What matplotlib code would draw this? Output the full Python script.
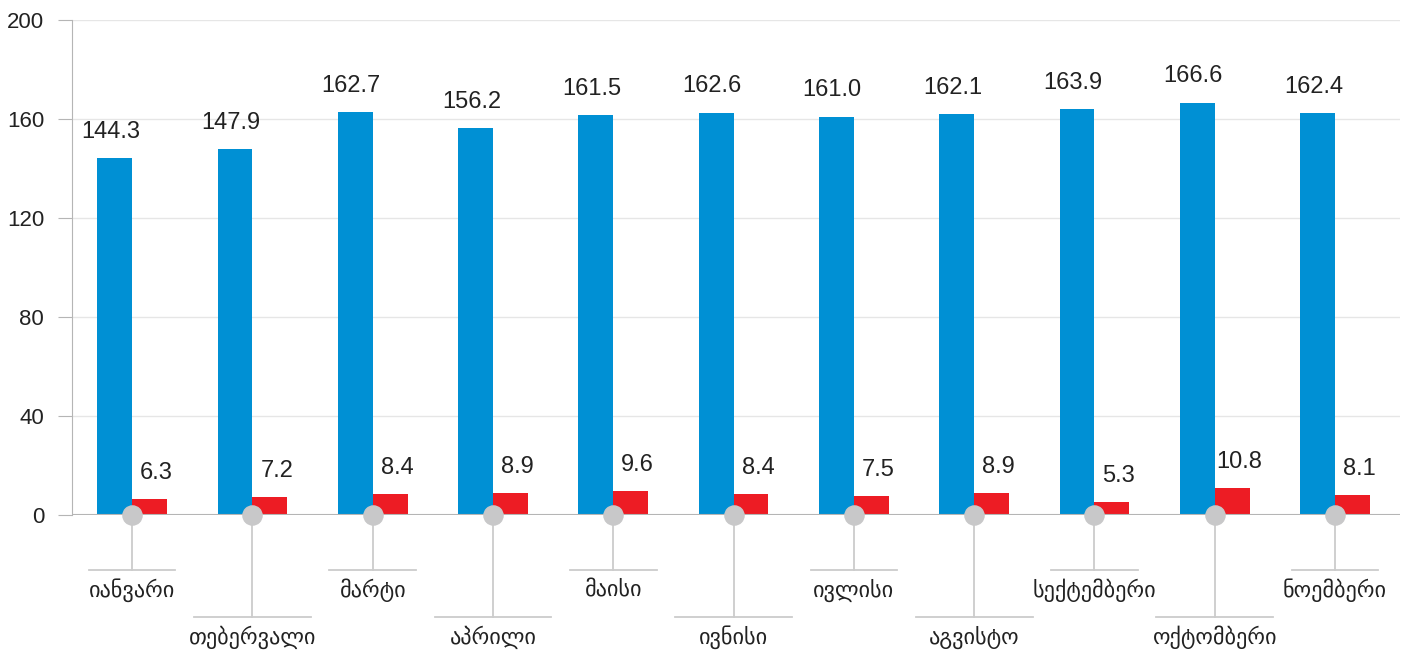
import numpy as np
import matplotlib.pyplot as plt
from matplotlib.transforms import blended_transform_factory
from matplotlib.lines import Line2D

# ── Data ───────────────────────────────────────
months = ["იანვარი", "თებერვალი", "მარტი", "აპრილი", "მაისი", "ივნისი",
          "ივლისი", "აგვისტო", "სექტემბერი", "ოქტომბერი", "ნოემბერი"]
blue_vals = [144.3, 147.9, 162.7, 156.2, 161.5, 162.6, 161.0, 162.1, 163.9, 166.6, 162.4]
red_vals = [6.3, 7.2, 8.4, 8.9, 9.6, 8.4, 7.5, 8.9, 5.3, 10.8, 8.1]

BLUE = "#0090d4"
RED = "#ed1c24"
GREY = "#c8c8c9"

plt.rcParams["font.family"] = ["Liberation Sans", "DejaVu Sans"]

W, H = 1408, 650
fig = plt.figure(figsize=(W / 100, H / 100), dpi=100)
ax = fig.add_axes([72 / W, 135 / H, (1400 - 72) / W, (515 - 20) / H])

x = np.arange(len(months))
bw = 0.29
ax.bar(x - bw / 2, blue_vals, width=bw, color=BLUE, zorder=2)
ax.bar(x + bw / 2, red_vals, width=bw, color=RED, zorder=2)

for i in range(len(months)):
    ax.annotate(f"{blue_vals[i]:.1f}", (x[i] - bw / 2, blue_vals[i]),
                xytext=(-3, 11), textcoords="offset points",
                ha="center", va="bottom", fontsize=17, color="#222222")
    ax.annotate(f"{red_vals[i]:.1f}", (x[i] + bw / 2, red_vals[i]),
                xytext=(5, 11), textcoords="offset points",
                ha="center", va="bottom", fontsize=17, color="#222222")

ax.set_xlim(-0.5, 10.54)
ax.set_ylim(0, 200)
ax.set_yticks([0, 40, 80, 120, 160, 200])
ax.set_xticks([])
ax.grid(axis="y", color="#e6e6e6", linewidth=1, zorder=0)
for s in ["top", "right", "bottom"]:
    ax.spines[s].set_visible(False)
ax.spines["left"].set_color("#b5b5b5")
ax.tick_params(axis="y", length=10, color="#b5b5b5", labelsize=16,
               labelcolor="#222222", pad=10)
ax.axhline(0, color="#b5b5b5", linewidth=1.5, zorder=3)

# circles on the axis
ax.scatter(x, np.zeros(len(x)), s=190, color=GREY, zorder=4, clip_on=False)

# staggered month labels with connectors
trans = blended_transform_factory(ax.transData, fig.transFigure)
for i, m in enumerate(months):
    row = i % 2
    y_line = 1 - (570 if row == 0 else 617) / H
    y_text = 1 - (590 if row == 0 else 637) / H
    half = 0.36 if row == 0 else 0.486
    ax.text(x[i], y_text, m, transform=trans, ha="center", va="center",
            fontsize=16, color="#222222", family=["DejaVu Sans"])
    ax.add_line(Line2D([x[i] - half, x[i] + half], [y_line, y_line],
                       transform=trans, color="#cccccc", linewidth=1.3, clip_on=False))
    ax.add_line(Line2D([x[i], x[i]], [1 - 515 / H, y_line],
                       transform=trans, color="#cccccc", linewidth=1.3,
                       clip_on=False, zorder=1))

fig.savefig("out.png", dpi=100)
